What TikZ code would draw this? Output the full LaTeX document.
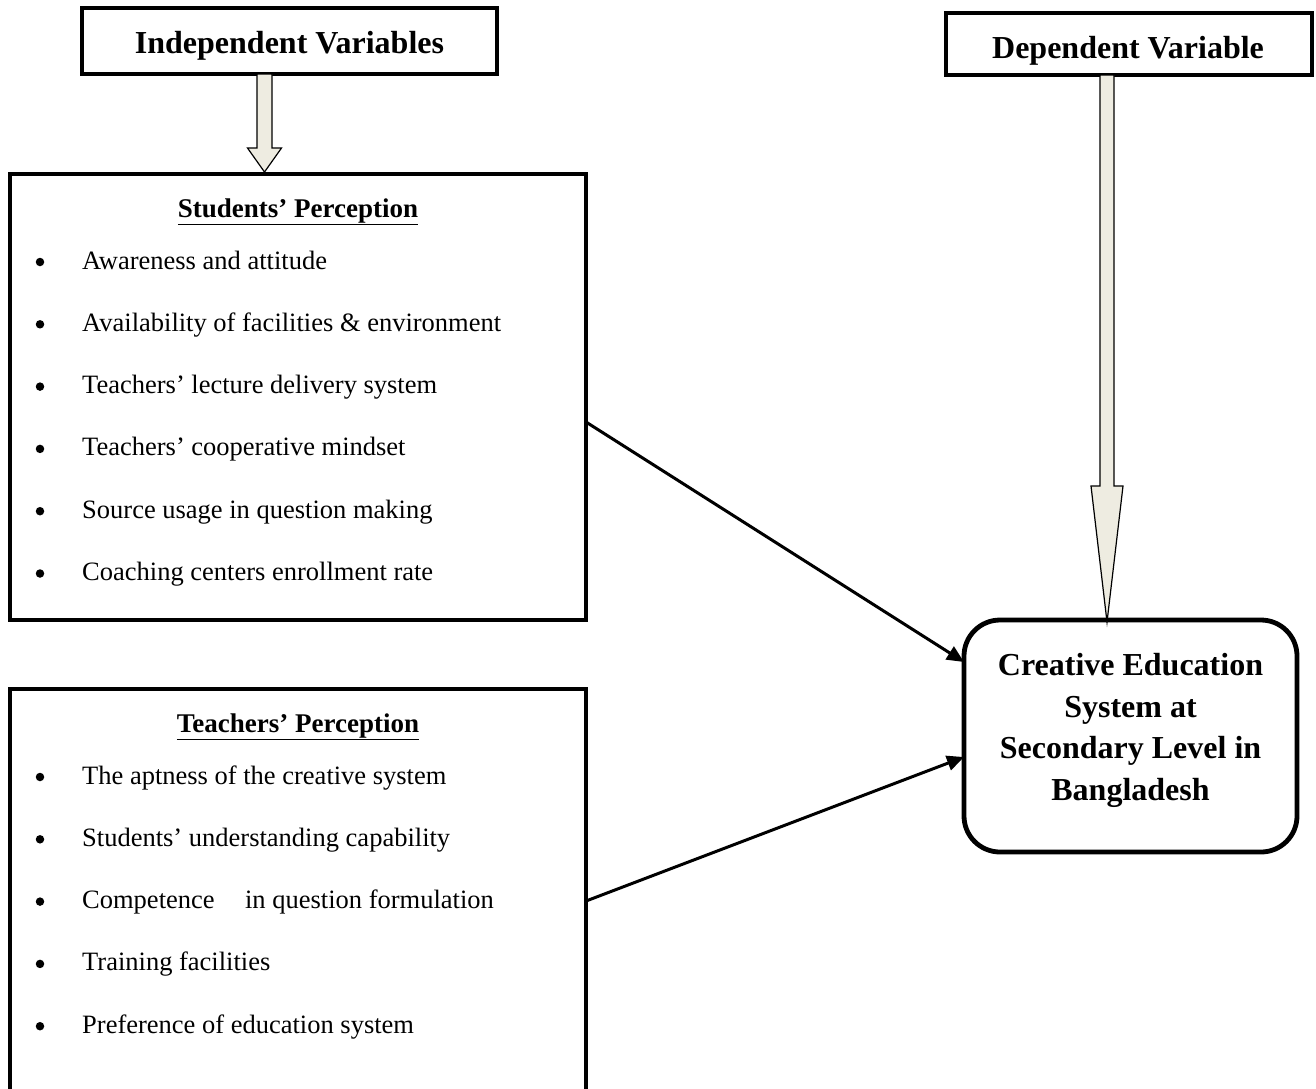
\documentclass[tikz,border=0pt]{standalone}
\usepackage{fontspec}
\setmainfont{Liberation Serif}
\usetikzlibrary{arrows.meta}
\definecolor{beige}{HTML}{EEECE1}
\begin{document}
\begin{tikzpicture}[x=1pt,y=-1pt,
  hdrbox/.style={draw,line width=3.3pt,inner sep=0pt},
  hdrtxt/.style={font=\fontsize{32}{36}\selectfont\bfseries,inner sep=0pt,anchor=base},
  panel/.style={draw,line width=4.8pt},
  ttl/.style={font=\fontsize{27}{30}\selectfont\bfseries,inner sep=0pt,anchor=base},
  item/.style={font=\fontsize{26.5}{30}\selectfont,anchor=base west,inner sep=0pt},
  bul/.style={circle,fill,inner sep=0pt,minimum size=8.5pt},
  outtxt/.style={font=\fontsize{32}{42}\selectfont\bfseries,inner sep=0pt,anchor=base},
  blockarrow/.style={draw,fill=beige,line width=1.2pt,line join=miter},
  conn/.style={line width=3pt,-{Triangle[length=17pt,width=15pt]}}]
\useasboundingbox (0,0) rectangle (1316,1088);
\clip (0,0) rectangle (1316,1088);
% header boxes
\node[hdrbox,minimum width=415pt,minimum height=66pt] (iv) at (289.5,41) {};
\node[hdrtxt] (ivt) at (289.5,53) {Independent Variables};
\node[hdrbox,minimum width=366pt,minimum height=62pt] (dv) at (1129,44) {};
\node[hdrtxt] (dvt) at (1128,58) {Dependent Variable};
% students panel
\node[panel,minimum width=576pt,minimum height=446pt] (sp) at (298,397) {};
\node[ttl] (spt) at (298,217) {\underline{Students’ Perception}};
\foreach \t [count=\i] in {Awareness and attitude,
  Availability of facilities \& environment,
  Teachers’ lecture delivery system,
  Teachers’ cooperative mindset,
  Source usage in question making,
  Coaching centers enrollment rate}{
  \node[bul] (sb\i) at (40,{262+62.3*(\i-1)}) {};
  \node[item] (si\i) at (82,{269+62.3*(\i-1)}) {\t};
}
% teachers panel
\node[panel,minimum width=576pt,minimum height=500pt] (tp) at (298,939) {};
\node[ttl] (tpt) at (298,732) {\underline{Teachers’ Perception}};
\foreach \t [count=\i] in {The aptness of the creative system,
  Students’ understanding capability,
  Competence\hspace{0.9em} in question formulation,
  Training facilities,
  Preference of education system}{
  \node[bul] (tb\i) at (40,{777+62.3*(\i-1)}) {};
  \node[item] (ti\i) at (82,{784+62.3*(\i-1)}) {\t};
}
% outcome box
\node[draw,line width=4.8pt,rounded corners=36pt,minimum width=333pt,minimum height=232pt] (ce) at (1130.5,736) {};
\node[outtxt] (ce1) at (1130.5,675) {Creative Education};
\node[outtxt] (ce2) at (1130.5,717) {System at};
\node[outtxt] (ce3) at (1130.5,758.5) {Secondary Level in};
\node[outtxt] (ce4) at (1130.5,800) {Bangladesh};
% block arrows
\draw[blockarrow] (257,74) -- (272,74) -- (272,148) -- (281.5,148) -- (264.5,172)
  -- (247.5,148) -- (257,148) -- cycle;
\draw[blockarrow] (1100,75) -- (1114,75) -- (1114,486) -- (1123,486) -- (1107,622)
  -- (1091,486) -- (1100,486) -- cycle;
% connectors
\coordinate (a1) at (586,422);
\coordinate (b1) at (964,662);
\coordinate (a2) at (586,901);
\coordinate (b2) at (964,757);
\draw[conn] (a1) -- (b1);
\draw[conn] (a2) -- (b2);
\end{tikzpicture}
\end{document}
